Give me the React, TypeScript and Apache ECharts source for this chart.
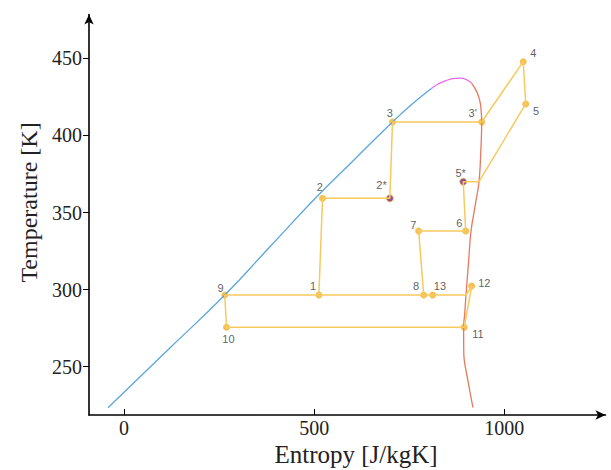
import React, { useEffect, useRef } from "react";
import * as echarts from "echarts";

// Saturation dome: liquid (blue), top (magenta), vapour (red)
const liquidS = [-42, 111, 265, 383, 503, 604, 706, 757, 809];
const liquidT = [223.4, 259.9, 296.5, 327.6, 359.2, 383.9, 408.7, 420.2, 430.6];
const topS = [809, 844, 883.4, 914.2];
const topT = [430.6, 435.3, 437.1, 433.8];
const vapourS = [914.2, 927.4, 936, 939.5, 940.5, 938.2, 933.4, 923, 912.4, 906, 899.2, 896, 893, 893.4, 904, 917.6];
const vapourT = [433.8, 428.4, 421.9, 414.4, 408.7, 390, 370, 354, 338, 318, 296.5, 285, 275.6, 258.7, 241.4, 223.5];

// Cycle state points
const pointNames = ["9", "1", "2", "2*", "3", "3'", "4", "5", "J5", "5*", "6", "7", "8", "13", "P", "12", "11", "10"];
const pointS = [265, 512.4, 522, 699, 706, 940.5, 1049.7, 1056.3, 933.4, 892, 898.4, 774.7, 788, 811.6, 899.2, 914.2, 894.5, 269.5];
const pointT = [296.5, 296.5, 359.2, 359.2, 408.7, 408.7, 447.8, 420.4, 370, 370, 338, 338, 296.5, 296.5, 296.5, 302.3, 275.6, 275.6];
const labelDX = [-4.3, -5.7, -2.7, -8.3, -2.7, -9, 10, 10.3, 0, -2.6, -6.4, -5.4, -7.7, 7.3, 0, 12.6, 13.7, 2];
const labelDY = [-7.4, -9.4, -11.6, -13.3, -9.3, -8.7, -9, 7, 0, -9, -8.3, -6, -9.4, -9.4, 0, -2.7, 6.7, 11.4];
const hiddenPoints = ["J5", "P"];
const purplePoints = ["2*", "5*"];

// order of the connecting path (names)
const pathOrder = ["1", "9", "10", "11", "12", "P", "13", "8", "1", "2", "2*", "3", "3'", "4", "5", "J5", "5*", "6", "7", "8"];

const xTicks = [0, 500, 1000];
const yTicks = [250, 300, 350, 400, 450];
const xTitle = "Entropy [J/kgK]";
const yTitle = "Temperature [K]";

const serif = '"Liberation Serif", "Times New Roman", serif';

export default function App() {
  const ref = useRef<HTMLDivElement>(null);
  useEffect(() => {
    document.body.style.margin = "0";
    if (!ref.current) return;
    const chart = echarts.init(ref.current, undefined, { renderer: "svg" });
    const zip = (s: number[], t: number[]) => s.map((v, i) => [v, t[i]]);
    const idx = (n: string) => pointNames.indexOf(n);
    const pathData = pathOrder.map((n) => [pointS[idx(n)], pointT[idx(n)]]);
    const markerData = pointNames
      .map((n, i) => ({ n, i }))
      .filter(({ n }) => !hiddenPoints.includes(n))
      .map(({ n, i }) => ({
        value: [pointS[i], pointT[i]],
        name: n,
        itemStyle: purplePoints.includes(n)
          ? { color: "#72297c", borderColor: "#f2b430", borderWidth: 0.8 }
          : { color: "#f2b32c" },
        label: { offset: [labelDX[i], labelDY[i]] },
      }));

    chart.setOption({
      animation: false,
      grid: { left: 89, right: 5.5, top: 14.5, bottom: 55 },
      xAxis: {
        type: "value",
        min: -92,
        max: 1266,
        splitLine: { show: false },
        axisLine: {
          show: true,
          onZero: false,
          lineStyle: { color: "#000", width: 1.6 },
          symbol: ["none", "arrow"],
          symbolSize: [7, 10],
        },
        axisTick: { show: true, inside: true, length: 6, customValues: xTicks, lineStyle: { color: "#000", width: 1 } },
        axisLabel: {
          customValues: xTicks,
          formatter: (v: number) => String(v),
          fontFamily: serif,
          fontSize: 20,
          color: "#222",
          margin: 3,
        },
      },
      yAxis: {
        type: "value",
        min: 218.7,
        max: 478.4,
        splitLine: { show: false },
        axisLine: {
          show: true,
          onZero: false,
          lineStyle: { color: "#000", width: 1.6 },
          symbol: ["none", "arrow"],
          symbolSize: [7, 10],
        },
        axisTick: { show: true, inside: false, length: 6, customValues: yTicks, lineStyle: { color: "#000", width: 1 } },
        axisLabel: {
          customValues: yTicks,
          formatter: (v: number) => String(v),
          fontFamily: serif,
          fontSize: 20,
          color: "#222",
          margin: 7,
        },
      },
      graphic: [
        {
          type: "text",
          x: 356,
          y: 454,
          style: { text: xTitle, fontFamily: serif, fontSize: 25, fill: "#222", align: "center", verticalAlign: "middle" },
        },
        {
          type: "text",
          x: 28.5,
          y: 202.5,
          rotation: Math.PI / 2,
          style: { text: yTitle, fontFamily: serif, fontSize: 24, fill: "#222", align: "center", verticalAlign: "middle" },
        },
      ],
      series: [
        {
          type: "line",
          data: zip(liquidS, liquidT),
          smooth: 0.5,
          showSymbol: false,
          lineStyle: { color: "#5ba6dc", width: 1.3 },
          silent: true,
        },
        {
          type: "line",
          data: zip(topS, topT),
          smooth: 0.5,
          showSymbol: false,
          lineStyle: { color: "#e86ae8", width: 1.3 },
          silent: true,
        },
        {
          type: "line",
          data: zip(vapourS, vapourT),
          smooth: 0.4,
          showSymbol: false,
          lineStyle: { color: "#e8785e", width: 1.3 },
          silent: true,
        },
        {
          type: "line",
          data: pathData,
          showSymbol: false,
          lineStyle: { color: "#f8c95e", width: 1.5 },
          silent: true,
        },
        {
          type: "scatter",
          data: markerData,
          symbolSize: 7,
          label: {
            show: true,
            position: "inside",
            formatter: (p: any) => p.name,
            fontFamily: '"Liberation Sans", Arial, sans-serif',
            fontSize: 11,
            color: "#333",
          },
          silent: true,
        },
      ],
    });
    return () => chart.dispose();
  }, []);
  return <div ref={ref} style={{ width: 611, height: 470 }} />;
}
